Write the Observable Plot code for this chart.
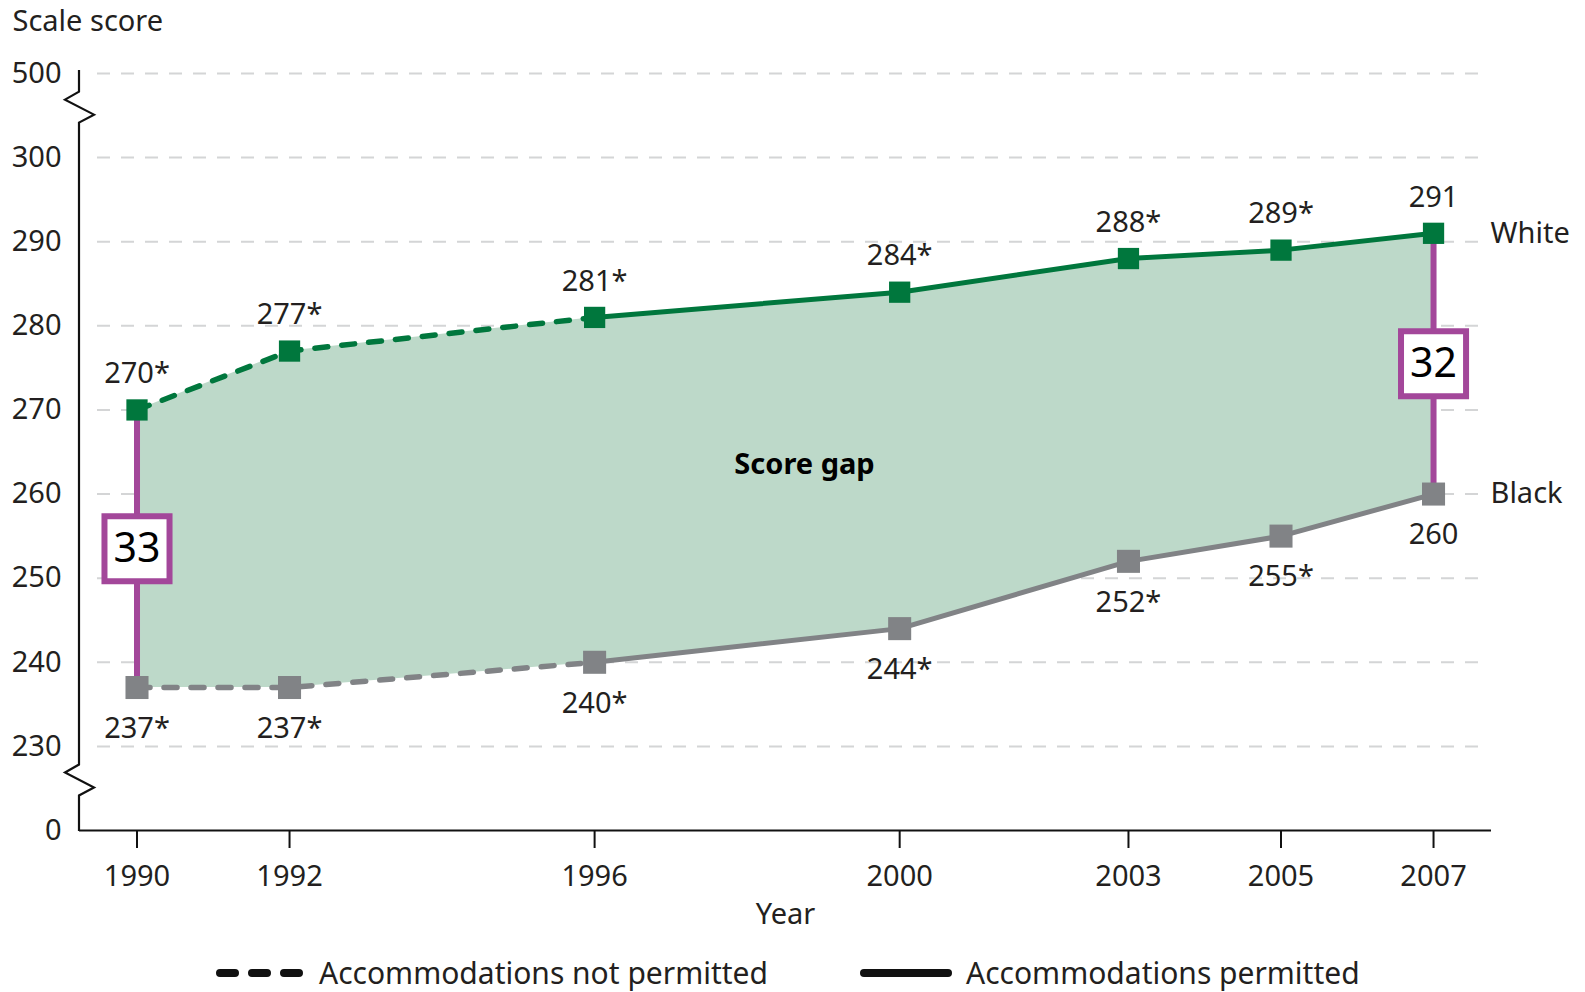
<!DOCTYPE html>
<html>
<head>
<meta charset="utf-8">
<script src="https://cdn.jsdelivr.net/npm/d3@7"></script>
<script src="https://cdn.jsdelivr.net/npm/@observablehq/plot@0.6"></script>
<style>
  html, body { margin: 0; padding: 0; background: #fff; }
  body { position: relative; width: 1585px; height: 992px; overflow: hidden; font-family: "Noto Sans", sans-serif; color: #231f20; }
  #legend { position: absolute; left: 0; top: 950px; height: 46px; display: flex; align-items: center; padding-left: 215px; font-size: 30px; line-height: 40px; }
  #legend .item { display: flex; align-items: center; }
  #legend svg { margin-right: 14px; }
</style>
</head>
<body>
<div id="chart"></div>
<div id="legend">
  <div class="item" style="margin-right:92px">
    <svg width="90" height="14"><line x1="5" x2="85" y1="7" y2="7" stroke="#111" stroke-width="8" stroke-linecap="round" stroke-dasharray="15,17"></line></svg>
    <span>Accommodations not permitted</span>
  </div>
  <div class="item">
    <svg width="92" height="14"><line x1="4" x2="88" y1="7" y2="7" stroke="#111" stroke-width="8" stroke-linecap="round"></line></svg>
    <span>Accommodations permitted</span>
  </div>
</div>
<script>
// ---- data ----
const years = [1990, 1992, 1996, 2000, 2003, 2005, 2007];
const whiteScores = [270, 277, 281, 284, 288, 289, 291];
const blackScores = [237, 237, 240, 244, 252, 255, 260];
const whiteSignificant = [true, true, true, true, true, true, false];
const blackSignificant = [true, true, true, true, true, true, false];
const notPermittedYears = [1990, 1992, 1996];
const permittedYears = [1996, 2000, 2003, 2005, 2007];
const gapYears = [1990, 2007];
const scoreGaps = [33, 32];
const seriesNames = ["White", "Black"];
// y axis: 220 stands for the "0" baseline and 310 for "500" (broken axis)
const yTicks = [220, 230, 240, 250, 260, 270, 280, 290, 300, 310];
const yTickLabels = ["0", "230", "240", "250", "260", "270", "280", "290", "300", "500"];
const axisBreaks = [306, 226];

// ---- build tables ----
const rows = years.map((year, i) => ({year, white: whiteScores[i], black: blackScores[i]}));
const points = [];
years.forEach((year, i) => {
  points.push({series: "White", year, score: whiteScores[i], label: whiteScores[i] + (whiteSignificant[i] ? "*" : "")});
  points.push({series: "Black", year, score: blackScores[i], label: blackScores[i] + (blackSignificant[i] ? "*" : "")});
});
const dashedPts = points.filter(d => notPermittedYears.includes(d.year));
const solidPts = points.filter(d => permittedYears.includes(d.year));
const gaps = gapYears.map((year, i) => {
  const r = rows.find(d => d.year === year);
  return {...r, gap: scoreGaps[i], mid: (r.white + r.black) / 2};
});
const lastYear = years[years.length - 1];
const seriesEnds = seriesNames.map(s => points.find(p => p.series === s && p.year === lastYear));

const GREEN = "#00773d", GRAY = "#818386", FILL = "#bdd9c9", PURPLE = "#a3479a", INK = "#231f20";
const seriesColor = d => (d.series === "White" ? GREEN : GRAY);

// broken y-axis line drawn from scales
function brokenAxis(index, scales, values, dimensions) {
  const x0 = dimensions.marginLeft;
  const yTop = scales.y(yTicks[yTicks.length - 1]) - 3;
  const yBot = scales.y(yTicks[0]);
  const pts = [[x0, yTop]];
  axisBreaks.forEach(b => {
    const c = scales.y(b);
    pts.push([x0, c - 15], [x0 - 14, c - 7], [x0 + 15, c + 8], [x0, c + 16]);
  });
  pts.push([x0, yBot + 1]);
  const p = document.createElementNS("http://www.w3.org/2000/svg", "path");
  p.setAttribute("d", d3.line()(pts));
  p.setAttribute("fill", "none");
  p.setAttribute("stroke", "#111");
  p.setAttribute("stroke-width", "2.2");
  return p;
}

const chart = Plot.plot({
  width: 1585,
  height: 935,
  marginLeft: 79,
  marginRight: 94,
  marginTop: 73,
  marginBottom: 105,
  style: {fontFamily: "Noto Sans", fontSize: "29px", color: INK, background: "#fff"},
  x: {domain: [1989.246, 2007.76], label: null},
  y: {domain: [220, 310], label: null},
  marks: [
    Plot.ruleY(yTicks.slice(1), {stroke: "#d4d5d6", strokeWidth: 2, strokeDasharray: "13,11", insetLeft: 18, insetRight: 10}),
    Plot.areaY(rows, {x: "year", y1: "black", y2: "white", fill: FILL}),
    Plot.line(dashedPts, {x: "year", y: "score", z: "series", stroke: seriesColor, strokeWidth: 5.5, strokeDasharray: "13,14", strokeLinecap: "round"}),
    Plot.line(solidPts, {x: "year", y: "score", z: "series", stroke: seriesColor, strokeWidth: 5}),
    Plot.ruleX(gaps, {x: "year", y1: "black", y2: "white", stroke: PURPLE, strokeWidth: 6}),
    Plot.dot(points.filter(d => d.series === "White"), {x: "year", y: "score", symbol: "square", r: 12, fill: GREEN}),
    Plot.dot(points.filter(d => d.series === "Black"), {x: "year", y: "score", symbol: "square", r: 13, fill: GRAY}),
    Plot.dot(gaps, {x: "year", y: "mid", symbol: "square", r: 36.7, fill: "#fff", stroke: PURPLE, strokeWidth: 6}),
    Plot.text(gaps, {x: "year", y: "mid", text: "gap", fontSize: 41, fill: "#000"}),
    Plot.text(points.filter(d => d.series === "White"), {x: "year", y: "score", text: "label", dy: -36, fill: INK}),
    Plot.text(points.filter(d => d.series === "Black"), {x: "year", y: "score", text: "label", dy: 41, fill: INK}),
    Plot.text(seriesEnds, {x: "year", y: "score", text: "series", dx: 57, textAnchor: "start", fill: INK}),
    Plot.text(["Score gap"], {text: d => d, frameAnchor: "middle", dx: 19, dy: 13, fontWeight: "bold", fill: "#000"}),
    Plot.text(["Scale score"], {text: d => d, frameAnchor: "top-left", dx: -67, dy: -63, textAnchor: "start", fill: INK}),
    Plot.text(["Year"], {text: d => d, frameAnchor: "bottom", dy: 93, fill: INK}),
    Plot.axisX({ticks: years, tickFormat: d => String(d), tickSize: 18, tickPadding: 17, strokeWidth: 2, stroke: "#111", label: null}),
    Plot.axisY({ticks: yTicks, tickFormat: d => yTickLabels[yTicks.indexOf(d)], tickSize: 0, tickPadding: 18, label: null}),
    Plot.ruleY([yTicks[0]], {stroke: "#111", strokeWidth: 2.2}),
    brokenAxis
  ]
});
document.getElementById("chart").appendChild(chart);
</script>
</body>
</html>
